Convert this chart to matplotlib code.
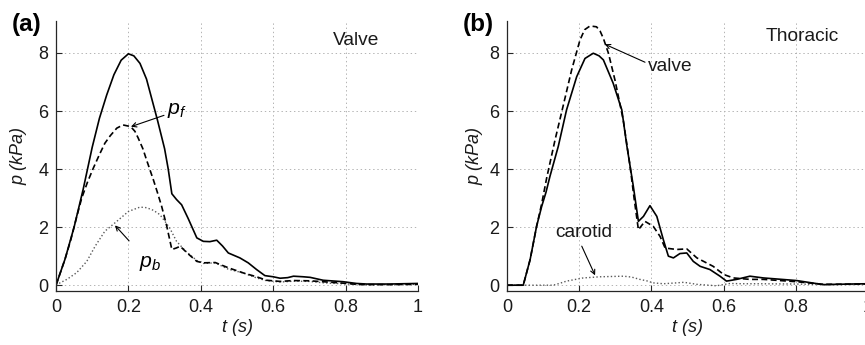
import matplotlib
matplotlib.use("Agg")
import matplotlib.pyplot as plt
import numpy as np

plt.rcParams['font.family'] = ['Liberation Sans', 'DejaVu Sans']
plt.rcParams['mathtext.fontset'] = 'custom'
plt.rcParams['mathtext.it'] = 'Liberation Sans:italic'
plt.rcParams['mathtext.rm'] = 'Liberation Sans'
plt.rcParams['lines.scale_dashes'] = False

# ---------------- Panel (a): Valve ----------------
t_a_p = [0, 0.025, 0.05, 0.075, 0.1, 0.12, 0.14, 0.16, 0.18, 0.2, 0.215, 0.232, 0.25,
         0.265, 0.28, 0.3, 0.31, 0.32, 0.333, 0.347, 0.365, 0.389, 0.407, 0.425, 0.444,
         0.46, 0.476, 0.508, 0.531, 0.554, 0.577, 0.6, 0.619, 0.64, 0.656, 0.683, 0.702,
         0.738, 0.793, 0.83, 0.858, 0.92, 1.0]
p_a = [0, 0.9, 2.0, 3.3, 4.75, 5.75, 6.55, 7.25, 7.75, 7.97, 7.9, 7.64, 7.1,
       6.4, 5.7, 4.7, 4.0, 3.15, 2.95, 2.77, 2.3, 1.63, 1.51, 1.5, 1.55,
       1.35, 1.11, 0.94, 0.77, 0.54, 0.33, 0.29, 0.24, 0.26, 0.31, 0.29, 0.27,
       0.17, 0.12, 0.06, 0.04, 0.04, 0.06]

t_a_pf = [0, 0.025, 0.041, 0.056, 0.071, 0.087, 0.103, 0.12, 0.135, 0.15, 0.168, 0.185,
          0.2, 0.208, 0.218, 0.227, 0.24, 0.25, 0.269, 0.28, 0.292, 0.306, 0.32, 0.332,
          0.343, 0.365, 0.389, 0.407, 0.44, 0.476, 0.518, 0.554, 0.582, 0.619, 0.656,
          0.702, 0.738, 0.793, 0.83, 0.86, 0.92, 1.0]
pf_a = [0, 0.9, 1.57, 2.3, 3.0, 3.55, 4.03, 4.5, 4.89, 5.15, 5.41, 5.52,
        5.48, 5.44, 5.3, 5.07, 4.7, 4.32, 3.63, 3.2, 2.71, 2.03, 1.23, 1.28,
        1.34, 1.08, 0.82, 0.77, 0.78, 0.6, 0.42, 0.29, 0.17, 0.13, 0.16,
        0.15, 0.12, 0.07, 0.03, 0.02, 0.02, 0.03]

t_a_pb = [0, 0.011, 0.03, 0.057, 0.085, 0.108, 0.135, 0.168, 0.2, 0.232, 0.25, 0.269,
          0.287, 0.301, 0.315, 0.333, 0.36, 0.389, 0.407, 0.44, 0.476, 0.518, 0.554,
          0.58, 0.62, 0.66, 0.7, 0.74, 0.79, 0.85, 1.0]
pb_a = [0, 0.08, 0.2, 0.43, 0.82, 1.34, 1.86, 2.2, 2.54, 2.69, 2.67, 2.58,
        2.43, 2.2, 1.95, 1.51, 1.15, 0.85, 0.75, 0.77, 0.55, 0.42, 0.25,
        0.16, 0.11, 0.14, 0.13, 0.08, 0.05, 0.01, 0.03]

# ---------------- Panel (b): Thoracic ----------------
t_b_ref = [0, 0.045, 0.064, 0.082, 0.096, 0.108, 0.119, 0.142, 0.165, 0.193, 0.216, 0.239,
           0.255, 0.267, 0.294, 0.318, 0.332, 0.35, 0.364, 0.378, 0.396, 0.415, 0.433,
           0.447, 0.461, 0.479, 0.498, 0.516, 0.535, 0.562, 0.59, 0.608, 0.636, 0.673,
           0.71, 0.802, 0.876, 0.95, 1.0]
p_b_ref = [0, 0, 0.88, 2.03, 2.71, 3.2, 3.75, 4.78, 6.04, 7.18, 7.81, 7.99,
           7.9, 7.76, 6.96, 6.04, 4.8, 3.4, 2.2, 2.37, 2.74, 2.37, 1.57,
           1.0, 0.94, 1.09, 1.11, 0.82, 0.65, 0.54, 0.31, 0.14, 0.2, 0.31,
           0.25, 0.16, 0.02, 0.04, 0.05]

t_b_valve = [0, 0.045, 0.064, 0.082, 0.096, 0.11, 0.133, 0.156, 0.179, 0.202, 0.215, 0.23,
             0.248, 0.258, 0.267, 0.281, 0.299, 0.322, 0.341, 0.352, 0.364, 0.382, 0.405,
             0.424, 0.438, 0.47, 0.498, 0.526, 0.571, 0.6, 0.627, 0.673, 0.71, 0.802,
             0.876, 1.0]
p_b_valve = [0, 0, 0.88, 2.03, 2.8, 3.7, 5.0, 6.2, 7.41, 8.44, 8.8, 8.93,
             8.9, 8.75, 8.5, 7.99, 7.07, 5.69, 4.09, 3.0, 1.91, 2.2, 2.03,
             1.68, 1.28, 1.23, 1.25, 0.94, 0.65, 0.37, 0.25, 0.2, 0.2, 0.12,
             0.03, 0.04]

t_b_car = [0, 0.128, 0.145, 0.165, 0.19, 0.211, 0.235, 0.258, 0.29, 0.323, 0.345, 0.368,
           0.387, 0.405, 0.433, 0.47, 0.49, 0.526, 0.58, 0.618, 0.65, 0.7, 0.8, 0.9, 1.0]
p_b_car = [0, 0, 0.06, 0.14, 0.2, 0.25, 0.27, 0.29, 0.3, 0.31, 0.28, 0.2,
           0.15, 0.08, 0.05, 0.08, 0.1, 0.03, -0.02, 0.06, 0.05, 0.05, 0.04, 0.02, 0.03]

xticks = [0, 0.2, 0.4, 0.6, 0.8, 1]
xticklabels = ['0', '0.2', '0.4', '0.6', '0.8', '1']
yticks = [0, 2, 4, 6, 8]

W, H = 865, 345
fig = plt.figure(figsize=(W / 100, H / 100), dpi=100)

def px_axes(left, right, top, bottom):
    return fig.add_axes([left / W, 1 - bottom / H, (right - left) / W, (bottom - top) / H])

ax1 = px_axes(56, 418, 21, 291)
ax2 = px_axes(507, 868, 21, 291)

FS = 13
FT = 13.8
for ax in (ax1, ax2):
    ax.set_xlim(0, 1)
    ax.set_ylim(-0.2, 9.1)
    ax.set_xticks(xticks)
    ax.set_xticklabels(xticklabels)
    ax.set_yticks(yticks)
    ax.spines['top'].set_visible(False)
    ax.spines['right'].set_visible(False)
    for s in ('left', 'bottom'):
        ax.spines[s].set_color('0.15')
        ax.spines[s].set_linewidth(0.9)
    ax.tick_params(direction='in', length=4, width=0.8, color='0.15',
                   labelsize=FS, pad=5.5, labelcolor='0.1')
    ax.grid(True, color='0.7', linestyle=(0, (1, 2)), linewidth=0.7)
    ax.set_axisbelow(True)
    ax.set_xlabel('t (s)', fontsize=FS, fontstyle='italic', color='0.1')
    ax.set_ylabel('p (kPa)', fontsize=FS, fontstyle='italic', color='0.1')
    ax.xaxis.set_label_coords(0.5, -0.105)

ax1.yaxis.set_label_coords(-0.08, 0.5)
ax2.yaxis.set_label_coords(-0.066, 0.5)

# Panel (a) lines
ax1.plot(t_a_pb, pb_a, color='0.35', linestyle=(0, (1, 1.6)), linewidth=1.0)
ax1.plot(t_a_pf, pf_a, color='black', linestyle=(0, (4.3, 2.4)), linewidth=1.2)
ax1.plot(t_a_p, p_a, color='black', linestyle='-', linewidth=1.2)

ax1.text(0.829, 8.44, 'Valve', fontsize=FT, ha='center', va='center', color='0.1')
ax1.annotate(r'$p_f$', xy=(0.207, 5.46), xytext=(0.306, 6.0), fontsize=FT + 1.5,
             ha='left', va='center',
             arrowprops=dict(arrowstyle='->', lw=0.8, color='black',
                             shrinkA=0, shrinkB=0, mutation_scale=8))
ax1.annotate(r'$p_b$', xy=(0.163, 2.06), xytext=(0.228, 0.75), fontsize=FT + 1.5,
             ha='left', va='center',
             arrowprops=dict(arrowstyle='->', lw=0.8, color='black',
                             shrinkA=10, shrinkB=0, mutation_scale=8))
fig.text(12 / W, 1 - 24 / H, '(a)', fontsize=17.5, fontweight='bold', ha='left', va='center')

# Panel (b) lines
ax2.plot(t_b_car, p_b_car, color='0.35', linestyle=(0, (1, 1.6)), linewidth=1.0)
ax2.plot(t_b_valve, p_b_valve, color='black', linestyle=(0, (4.3, 2.4)), linewidth=1.2)
ax2.plot(t_b_ref, p_b_ref, color='black', linestyle='-', linewidth=1.2)

ax2.text(0.817, 8.55, 'Thoracic', fontsize=FT, ha='center', va='center', color='0.1')
ax2.annotate('valve', xy=(0.271, 8.3), xytext=(0.39, 7.52), fontsize=FT,
             ha='left', va='center', color='0.1',
             arrowprops=dict(arrowstyle='->', lw=0.8, color='black',
                             shrinkA=0, shrinkB=0, mutation_scale=8,
                             relpos=(0, 0.7)))
ax2.annotate('carotid', xy=(0.244, 0.34), xytext=(0.213, 1.82), fontsize=FT,
             ha='center', va='center', color='0.1',
             arrowprops=dict(arrowstyle='->', lw=0.8, color='black',
                             shrinkA=2, shrinkB=0, mutation_scale=8,
                             relpos=(0.42, 0)))
fig.text(463 / W, 1 - 24 / H, '(b)', fontsize=17.5, fontweight='bold', ha='left', va='center')

fig.savefig('out.png', dpi=100)
